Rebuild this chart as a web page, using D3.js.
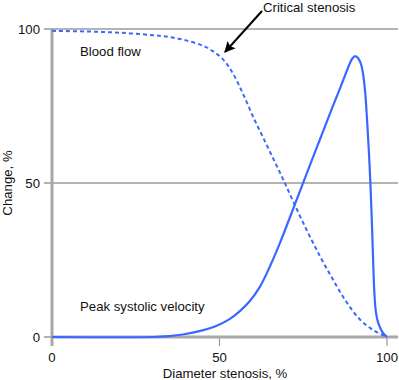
<!DOCTYPE html>
<meta charset="utf-8">
<style>
  body { margin: 0; background: #fff; }
  text { font-family: "Liberation Sans", Arial, sans-serif; font-size: 13.2px; fill: #111; }
</style>
<script src="https://d3js.org/d3.v7.min.js"></script>
<body>
<script>

// stenosis (%) vs change (%)
var flowX = [0, 10, 20, 30, 35, 40, 45, 48, 51, 54, 57, 60, 63, 66, 69, 72, 76, 80, 84, 88, 92, 95.8, 98.8, 100];
var flowY = [99.4, 99.2, 98.8, 98, 97.4, 96.3, 94.6, 92.8, 90.2, 85.6, 79, 71.6, 64.8, 58, 51.2, 44, 34.8, 26.2, 18.4, 11.2, 5.6, 2.3, 0.6, 0];

var velX = [0, 30, 35, 39, 44, 49, 53, 56, 59, 62, 65, 68, 71, 74, 77, 80, 83, 86, 87.5, 88.7, 89.7, 90.5, 91.4, 92.4, 93.4, 94.1, 94.6, 95, 95.4, 95.8, 96.2, 96.7, 97.4, 98.8, 100];
var velY = [0, 0, 0.3, 0.8, 1.9, 3.6, 5.8, 8.3, 11.6, 16.2, 22.8, 30.4, 38.8, 47.3, 55.8, 64.2, 72.6, 80.8, 85, 88.3, 90.5, 91.2, 90.5, 88, 80.5, 69.5, 60, 51, 40, 27, 15, 8, 4.5, 1.3, 0];

var xTicks = [0, 50, 100];
var yTicks = [0, 50, 100];

var width = 399, height = 380;
var x = d3.scaleLinear().domain([0, 100]).range([52, 387]);
var y = d3.scaleLinear().domain([0, 100]).range([337, 29]);

var svg = d3.select("body").append("svg")
    .attr("width", width)
    .attr("height", height);

// horizontal gridlines
svg.selectAll(".grid")
    .data(yTicks.filter(function(d) { return d > 0; }))
    .enter().append("line")
    .attr("x1", 44).attr("x2", 398)
    .attr("y1", function(d) { return y(d); })
    .attr("y2", function(d) { return y(d); })
    .attr("stroke", "#9a9a9a").attr("stroke-width", 1.5);

// y tick at zero
svg.append("line")
    .attr("x1", 44).attr("x2", 52).attr("y1", y(0)).attr("y2", y(0))
    .attr("stroke", "#9a9a9a").attr("stroke-width", 1.5);

// x ticks
svg.selectAll(".xtick")
    .data(xTicks.filter(function(d) { return d > 0; }))
    .enter().append("line")
    .attr("x1", function(d) { return x(d); })
    .attr("x2", function(d) { return x(d); })
    .attr("y1", y(0)).attr("y2", 346)
    .attr("stroke", "#9a9a9a").attr("stroke-width", 1.2);

// axes
svg.append("line")
    .attr("x1", x(0)).attr("x2", x(0)).attr("y1", y(100)).attr("y2", 346)
    .attr("stroke", "#a8a8a8").attr("stroke-width", 3);
svg.append("line")
    .attr("x1", x(0)).attr("x2", 398).attr("y1", y(0)).attr("y2", y(0))
    .attr("stroke", "#a8a8a8").attr("stroke-width", 3);

// tick labels
svg.selectAll(".ylab")
    .data(yTicks)
    .enter().append("text")
    .attr("x", 40)
    .attr("y", function(d) { return y(d); })
    .attr("dy", "0.36em")
    .attr("text-anchor", "end")
    .text(function(d) { return d; });

svg.selectAll(".xlab")
    .data(xTicks)
    .enter().append("text")
    .attr("x", function(d) { return x(d); })
    .attr("y", 362)
    .attr("text-anchor", "middle")
    .text(function(d) { return d; });

svg.append("text")
    .attr("x", 225).attr("y", 378)
    .attr("text-anchor", "middle")
    .text("Diameter stenosis, %");

svg.append("text")
    .attr("transform", "translate(12," + y(50) + ") rotate(-90)")
    .attr("text-anchor", "middle")
    .text("Change, %");

// curves
var line = d3.line()
    .x(function(d) { return x(d[0]); })
    .y(function(d) { return y(d[1]); })
    .curve(d3.curveCatmullRom.alpha(0.5));

svg.append("path")
    .datum(flowX.map(function(d, i) { return [d, flowY[i]]; }))
    .attr("d", line)
    .attr("fill", "none")
    .attr("stroke", "#3a68ff")
    .attr("stroke-width", 2)
    .attr("stroke-dasharray", "4,3");

svg.append("path")
    .datum(velX.map(function(d, i) { return [d, velY[i]]; }))
    .attr("d", line)
    .attr("fill", "none")
    .attr("stroke", "#3a68ff")
    .attr("stroke-width", 2.2);

// annotations
svg.append("text").attr("x", 80).attr("y", 56).text("Blood flow");
svg.append("text").attr("x", 80).attr("y", 311).text("Peak systolic velocity");
svg.append("text").attr("x", 263).attr("y", 12).text("Critical stenosis");

svg.append("defs").append("marker")
    .attr("id", "head")
    .attr("viewBox", "0 0 10 10")
    .attr("refX", 9).attr("refY", 5)
    .attr("markerWidth", 5.5).attr("markerHeight", 5.5)
    .attr("orient", "auto")
    .append("path")
    .attr("d", "M0,0 L10,5 L0,10 L2,5 z")
    .attr("fill", "#000");

svg.append("line")
    .attr("x1", 262).attr("y1", 11)
    .attr("x2", 225).attr("y2", 52)
    .attr("stroke", "#000").attr("stroke-width", 2)
    .attr("marker-end", "url(#head)");

</script>
</body>
